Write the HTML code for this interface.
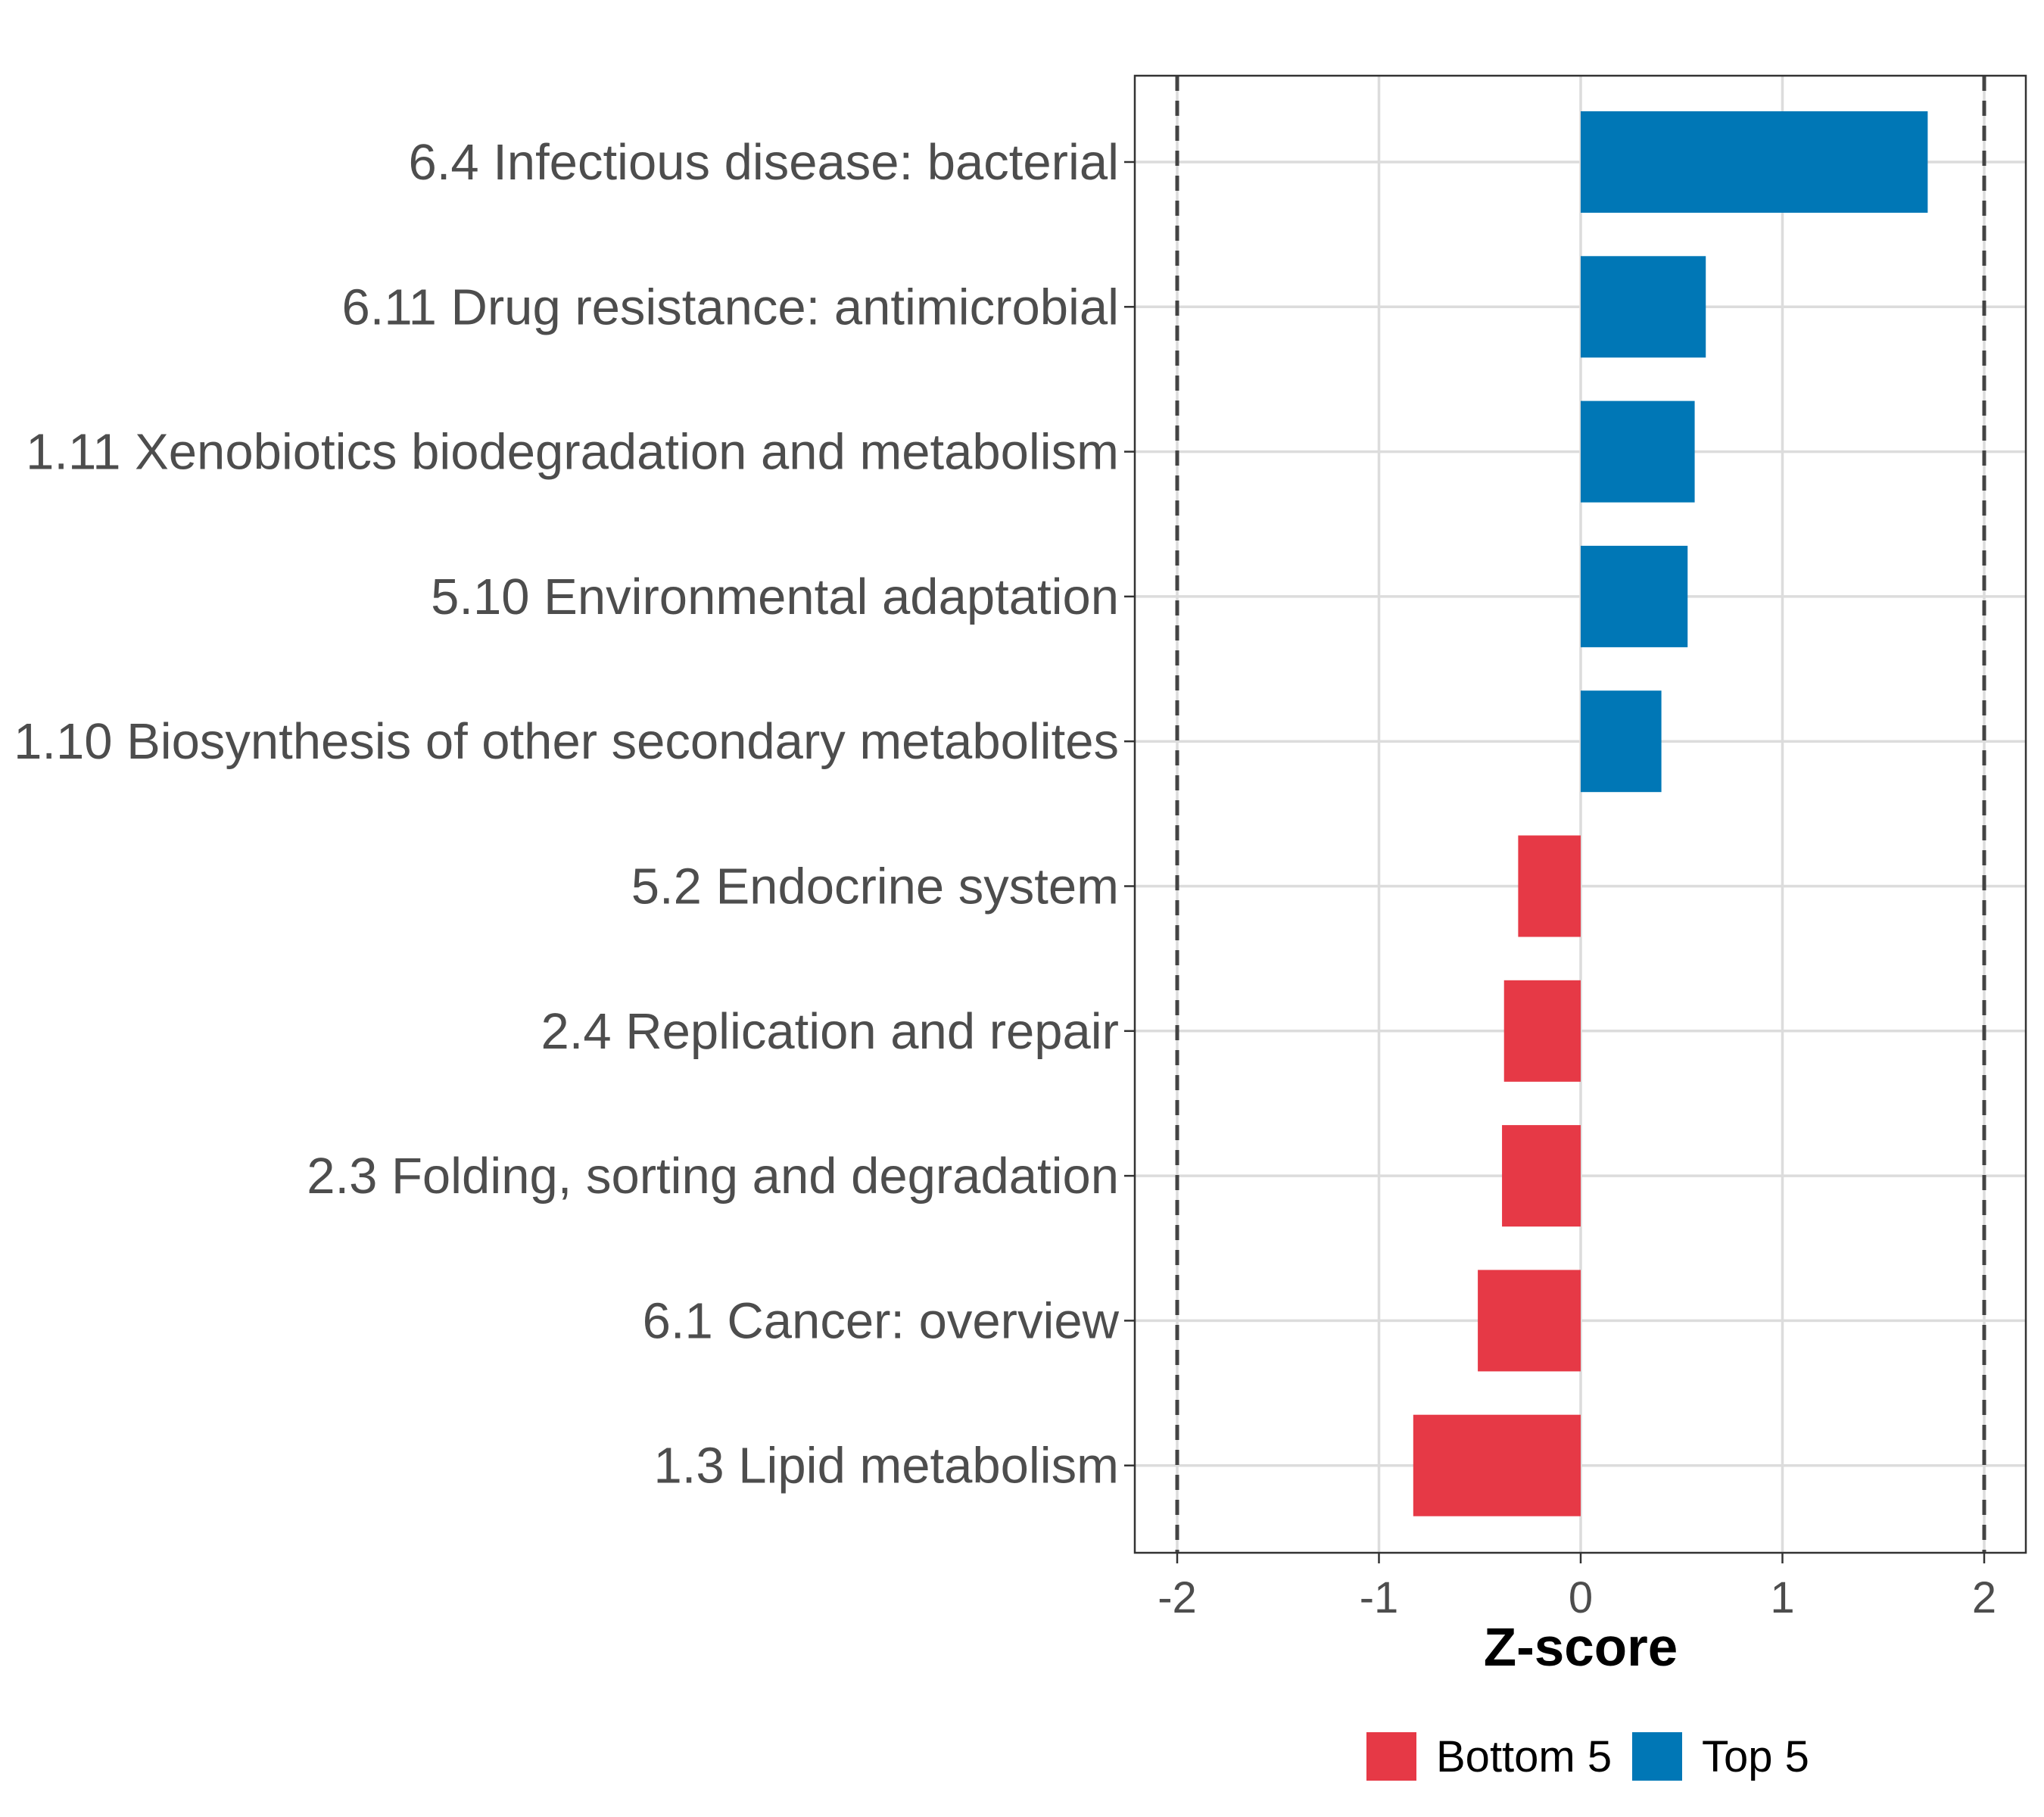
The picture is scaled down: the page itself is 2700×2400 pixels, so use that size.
<!DOCTYPE html>
<html><head><meta charset="utf-8"><style>
html,body{margin:0;padding:0;background:#fff;}
svg{display:block;font-family:"Liberation Sans",Arial,sans-serif;}
</style></head><body>
<svg id="chart" width="2700" height="2400" viewBox="0 0 2700 2400" xmlns="http://www.w3.org/2000/svg">
<g id="grid"></g>
<g id="bars"></g>
<g id="refs"></g>
<rect x="1499" y="100" width="1177" height="1951" fill="none" stroke="#333" stroke-width="2.5"/>
<g id="yaxis"></g>
<g id="xaxis"></g>
<text x="2088" y="2200" text-anchor="middle" font-size="71" font-weight="bold" fill="#000">Z-score</text>
<g>
<rect x="1805" y="2288" width="66" height="64" fill="#E63946"/>
<text x="1897" y="2340" font-size="58" fill="#000">Bottom 5</text>
<rect x="2156" y="2288" width="66" height="64" fill="#0077B6"/>
<text x="2248" y="2340" font-size="58" fill="#000">Top 5</text>
</g>
</svg>
<script>
const categories = ["6.4 Infectious disease: bacterial","6.11 Drug resistance: antimicrobial","1.11 Xenobiotics biodegradation and metabolism","5.10 Environmental adaptation","1.10 Biosynthesis of other secondary metabolites","5.2 Endocrine system","2.4 Replication and repair","2.3 Folding, sorting and degradation","6.1 Cancer: overview","1.3 Lipid metabolism"];
const values = [1.72, 0.62, 0.565, 0.53, 0.40, -0.31, -0.38, -0.39, -0.51, -0.83];
const groups = ["Top 5","Top 5","Top 5","Top 5","Top 5","Bottom 5","Bottom 5","Bottom 5","Bottom 5","Bottom 5"];
const xTicks = [-2, -1, 0, 1, 2];
const xTickLabels = ["-2","-1","0","1","2"];
const refLines = [-2, 2];

const NS="http://www.w3.org/2000/svg";
const L=1499,R=2676,T=100,B=2051;
const x=v=>2088+v*266.5;
const y=i=>214+i*191.3;
const colors={"Top 5":"#0077B6","Bottom 5":"#E63946"};
function mk(tag,attrs,parent){const e=document.createElementNS(NS,tag);for(const k in attrs)e.setAttribute(k,attrs[k]);parent.appendChild(e);return e;}
const grid=document.getElementById('grid'),bars=document.getElementById('bars'),refs=document.getElementById('refs'),ya=document.getElementById('yaxis'),xa=document.getElementById('xaxis');
xTicks.forEach((t,i)=>{
  let g=mk('line',{x1:x(t),x2:x(t),y1:T,y2:B,stroke:'#dcdcdc','stroke-width':3.5},grid);
  
  
  let tk=mk('line',{x1:x(t),x2:x(t),y1:B,y2:B+14,stroke:'#333','stroke-width':2.5},xa);
  
  
  let tl=mk('text',{x:x(t),y:2130,'text-anchor':'middle','font-size':58,fill:'#4d4d4d'},xa);
  tl.textContent=xTickLabels[i];
  
  
});
categories.forEach((c,i)=>{
  let g=mk('line',{x1:L,x2:R,y1:y(i),y2:y(i),stroke:'#dcdcdc','stroke-width':3.5},grid);
  
  
  const v=values[i];
  let b=mk('rect',{x:Math.min(x(0),x(v)),y:y(i)-67,width:Math.abs(x(v)-x(0)),height:134,fill:colors[groups[i]]},bars);
  
  
  let tk=mk('line',{x1:L-14,x2:L,y1:y(i),y2:y(i),stroke:'#333','stroke-width':2.5},ya);
  
  
  let tl=mk('text',{x:1478,y:y(i)+23,'text-anchor':'end','font-size':67,fill:'#4d4d4d'},ya);
  tl.textContent=c;
  
  
});
refLines.forEach(r=>{
  let l=mk('line',{x1:x(r),x2:x(r),y1:T,y2:B,stroke:'#444','stroke-width':5,'stroke-dasharray':'20,13'},refs);
  
  
});
</script>
</body></html>
